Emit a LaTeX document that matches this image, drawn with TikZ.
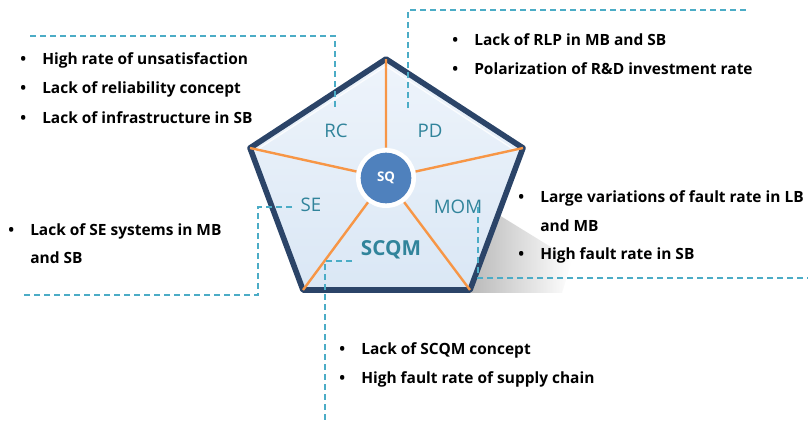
\documentclass[tikz,border=0pt]{standalone}
\usepackage{fontspec}
\setmainfont{Open Sans}
\usetikzlibrary{positioning,fadings}

\definecolor{callout}{HTML}{4BACC6}
\definecolor{labeltext}{HTML}{31849B}
\definecolor{rim}{HTML}{2B4468}
\definecolor{spoke}{HTML}{F79646}
\definecolor{hub}{HTML}{4F81BD}
\definecolor{facetop}{HTML}{EEF4FB}
\definecolor{facebot}{HTML}{DAE7F5}

\tikzset{
  item/.style={anchor=west, inner sep=0pt, font=\bfseries\fontsize{11.6}{13}\selectfont},
  area/.style={text=labeltext, inner sep=0pt, font=\fontsize{14}{16}\selectfont},
  callline/.style={callout, line width=1.4pt, dash pattern=on 4.5pt off 3pt},
}
\newcommand{\bul}{\makebox[16.5pt][l]{\textbullet}}

\begin{document}
\begin{tikzpicture}[x=0.75pt, y=-0.75pt]
    \useasboundingbox (0,0) rectangle (808,425);

    % pentagon corners
    \coordinate (top) at (386,59);
    \coordinate (ur) at (523,148);
    \coordinate (lr) at (470,290);
    \coordinate (ll) at (303,290);
    \coordinate (ul) at (250,148);

    % shadow
    \fill[gray!55, path fading=east] (494,212) -- (572,260) -- (562,293) -- (470,293) -- cycle;

    \filldraw[rim, line width=4.2pt, line join=round, top color=facetop, bottom color=facebot]
        (top) -- (ur) -- (lr) -- (ll) -- (ul) -- cycle;
    \draw[white, line width=1pt, opacity=.8] (255,151) -- (386,66) -- (516,151);

    % hub
    \node[circle, fill=white, minimum size=45pt, inner sep=0pt] (ring) at (386,178) {};
    \node[circle, fill=hub, minimum size=38pt, inner sep=0pt, text=white,
          font=\bfseries\fontsize{10}{12}\selectfont] (sq) at (386,178) {SQ};

    \path[draw=spoke, line width=1.8pt]
        (ring) -- (top)
        (ring) -- (ur)
        (ring) -- (lr)
        (ring) -- (ll)
        (ring) -- (ul);

    \node[area] (rc) at (336,131) {RC};
    \node[area] (pd) at (430,131) {PD};
    \node[area] (se) at (311,205) {SE};
    \node[area] (mom) at (458,207) {MOM};
    \node[area, font=\bfseries\fontsize{15.5}{18}\selectfont] (scqm) at (391,250) {SCQM};

    % RC
    \node[item] (rc1) at (20,60) {\bul High rate of unsatisfaction};
    \node[item] (rc2) [below=21.75pt of rc1.west, anchor=west] {\bul Lack of reliability concept};
    \node[item] (rc3) [below=21.75pt of rc2.west, anchor=west] {\bul Lack of infrastructure in SB};
    \draw[callline] (30,36) -- (335,36) -- (335,107);

    % PD
    \node[item] (pd1) at (452,40) {\bul Lack of RLP in MB and SB};
    \node[item] (pd2) [below=21.75pt of pd1.west, anchor=west] {\bul Polarization of R\&D investment rate};
    \draw[callline] (408,108) -- (408,10) -- (748,10);

    % MOM
    \node[item] (mom1) at (518,198) {\bul Large variations of fault rate in LB};
    \node[item] (mom1b) at (540,226) {and MB};
    \node[item] (mom2) [below=21.75pt of mom1b.west, anchor=west, xshift=-16.5pt] {\bul High fault rate in SB};
    \draw[callline] (478,207) -- (478,278) -- (808,278);

    % SE
    \node[item] (se1) at (8,231) {\bul Lack of SE systems in MB};
    \node[item] (se1b) at (30,258) {and SB};
    \draw[callline] (292,207) -- (258,207) -- (258,295) -- (24,295);

    % SCQM
    \node[item] (sc1) at (339,350) {\bul Lack of SCQM concept};
    \node[item] (sc2) [below=21.75pt of sc1.west, anchor=west] {\bul High fault rate of supply chain};
    \draw[callline] (352,261) -- (325,261) -- (325,420);

\end{tikzpicture}
\end{document}
